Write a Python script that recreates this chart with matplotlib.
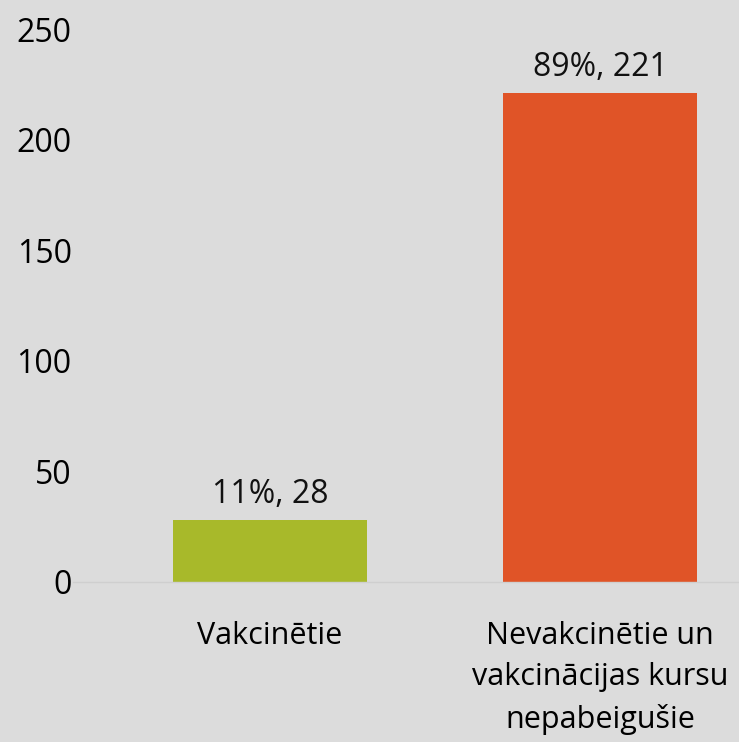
import matplotlib
matplotlib.use("Agg")
from matplotlib import pyplot as plt

categories = ["Vakcinētie", "Nevakcinētie un\nvakcinācijas kursu\nnepabeigušie"]
values = [28, 221]
labels = ["11%, 28", "89%, 221"]
colors = ["#a8b92a", "#e05427"]
yticks = [0, 50, 100, 150, 200, 250]

bg = "#dcdcdc"
plt.rcParams["font.family"] = ["Open Sans", "DejaVu Sans"]

fig = plt.figure(figsize=(7.39, 7.42), dpi=100, facecolor=bg)
ax = fig.add_axes([73 / 739, 1 - 582 / 742, (739 - 73) / 739, (582 - 29) / 742])
ax.set_facecolor(bg)

x = range(len(categories))
bars = ax.bar(x, values, width=0.59, color=colors, zorder=2)
for b, lab in zip(bars, labels):
    ax.text(b.get_x() + b.get_width() / 2, b.get_height() + 4, lab,
            ha="center", va="bottom", fontsize=23, color="#111111")

ax.set_xlim(-0.597, 1.421)
ax.set_ylim(0, 250)
ax.set_yticks(yticks)
ax.set_xticks(list(x))
ax.set_xticklabels(categories, fontsize=22, linespacing=1.5)
ax.tick_params(axis="y", labelsize=23, length=0, pad=1)
ax.tick_params(axis="x", length=0, pad=28)
for s in ["top", "right", "left"]:
    ax.spines[s].set_visible(False)
ax.spines["bottom"].set_color("#cfcfcf")
ax.spines["bottom"].set_linewidth(1)

fig.savefig("out.png", dpi=100, facecolor=bg)
